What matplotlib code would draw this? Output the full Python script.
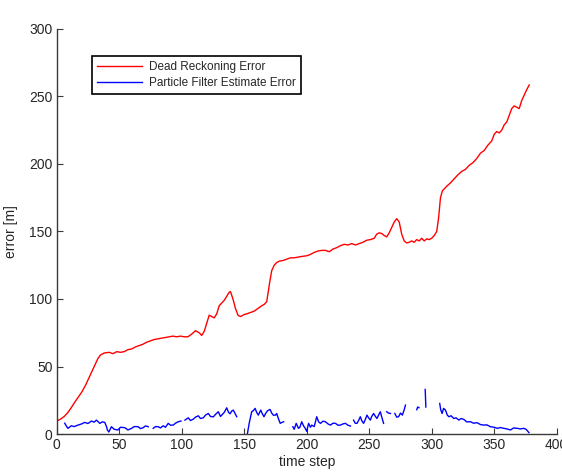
"""Erro de dead reckoning vs. erro do filtro de partículas ao longo do tempo."""

import matplotlib

matplotlib.use("Agg")
import matplotlib.pyplot as plt  # noqa: E402
import numpy as np  # noqa: E402

# Dead reckoning error
t_dr = [0, 3, 6, 9, 12, 14, 17, 20, 23, 25, 28, 31, 33, 35, 38, 42, 45, 48, 51, 54,
        57, 60, 63, 66, 69, 72, 75, 78, 81, 84, 87, 90, 93, 96, 99, 102, 105, 108, 111, 114,
        116, 118, 120, 122, 124, 126, 128, 130, 132, 134, 136, 138, 139, 141, 143, 145, 147,
        150, 152, 155, 158, 161, 164, 166, 168, 169, 170.5, 172, 174, 176, 178, 181, 184,
        187, 190, 193, 196, 200, 203, 206, 209, 212, 215, 218, 221, 224, 227, 230, 233, 236,
        239, 242, 245, 248, 251, 254, 256, 258, 260, 262, 264, 266, 268, 270, 272, 274, 276,
        278, 280, 282, 284, 286, 288, 290, 292, 294, 296, 298, 300, 302, 304, 305.5, 307,
        308.5, 310, 312, 315, 318, 321, 324, 327, 330, 333, 336, 339, 342, 345, 348, 350,
        352, 354, 356, 358, 360, 362, 364, 366, 368, 370, 372, 374, 376, 378]
e_dr = [9.5, 11, 13, 16, 20, 23, 27, 31, 36, 40, 46, 52, 56, 58.5, 60, 60.5, 59.5, 61, 60.5, 61,
        62.5, 63, 64.5, 65.5, 66.5, 68, 69, 70, 70.5, 71, 71.5, 72, 72.5, 72, 72.5, 72, 72, 74,
        76.5, 75, 73, 76, 82, 88, 87, 86, 89, 95, 97, 99, 102, 105, 105.5, 100, 93, 88, 87,
        88.5, 89, 90, 91, 93, 95, 96, 98, 104, 113, 121, 125, 127, 128, 128.5, 129.5,
        130.5, 130.5, 131, 131.5, 132, 133, 134.5, 135.5, 136, 136, 135, 137, 138, 139.5,
        140.5, 140, 141, 140, 141, 142, 143.5, 144, 145, 148, 149, 148.5, 147, 146, 149, 153,
        157, 159.5, 157, 148, 143, 141.5, 142, 143, 142, 144, 143, 145, 143, 144.5, 144, 145,
        147, 150, 160, 175, 180, 181.5, 183.5, 186, 189, 192, 194.5, 196, 199, 201, 204, 208,
        210, 214, 217, 222, 224, 223, 225, 229, 231, 236, 241, 243, 242, 241, 247, 251, 255,
        258.5]

# Particle filter estimate error (NaN = trecho sem estimativa)
nan = np.nan
t_pf = [6.4, 8, 9, 11.7, 14, 17, 20, 22.4, 25, 27.8, 30, 31.8, 34.5, 36.5, 38.5, 40, 40.5,
        41.7, 43.8, 46, 49, 51, 54.5, 57, 59.9, 62, 65.2, 67, 69.2, 71, 73.2, nan,
        77.2, 79, 81.2, 83, 85.2, 87, 89.2, 91, 93.2, 95, 97.2, 99.4, nan,
        102.6, 105.3, 107, 109.3, 111, 113.3, 115, 117.3, 119, 121.3, 123, 125.3, 127, 129.3,
        131, 132, 134, 136, 137.5, 138.7, 140, 141.3, 143, 144, nan,
        152.6, 154, 156, 157.5, 158.7, 160, 161.3, 163.2, 164.5, 165.8, 167, 168.6, 170.7,
        172, 173.4, 175, 176, 177.5, 178.8, 180, 181.5, nan,
        188.9, 190, 191.6, 193.4, 194.5, 196, 197.5, 198.8, 200, 201.5, 203, 204, 206, 208,
        209.5, 211, 213, 215, 217, 219, 221, 223, 225, 227, 229, 231, 233, 235, nan,
        237.5, 238.8, 240.2, 241.5, 242.9, 244, 245.5, 247, 248.2, 249.5, 250.9, 252, 253.5,
        255, 256.2, 257.5, 258.9, 260.2, 261.5, nan,
        264, 265.5, 267, nan,
        270.5, 272, 273.5, 275, 276.5, 278, 279, nan,
        288, 288.8, 289.8, nan,
        294.8, 295, 295.3, nan,
        306.4, 307.2, 308.3, 309.5, 311, 312.5, 313.7, 315.5, 317.7, 319.5, 321.7, 323.5,
        325.7, 328, 331, 333.5, 336.3, 339, 341.7, 344, 347, 350, 352.4, 355, 357.7, 360,
        363, 365.5, 368.4, 371, 373.7, 375.5, 377.8]
e_pf = [8, 5.5, 4.2, 6.1, 5.5, 6.6, 7.5, 8.6, 7.8, 9.6, 8.8, 10.3, 7.9, 9, 8.6, 5, 3,
        1.5, 5.4, 3.5, 3, 5, 4.7, 3, 4.2, 5.5, 5.4, 4, 4.7, 6, 5.4, nan,
        4.2, 5.5, 5.4, 4.5, 6.1, 5, 7.9, 6.5, 6.6, 8, 9.1, 9.6, nan,
        10.3, 12, 10, 11, 12.5, 13.5, 11.5, 12, 14, 15.2, 13, 12.7, 14.5, 16.5,
        13, 14, 16, 19.4, 16, 15, 17, 17.7, 14.5, 12.8, nan,
        0.5, 8, 16.5, 17.5, 19, 16, 14, 17.7, 15, 12.8, 15, 17.2, 18.2,
        15.5, 13.9, 14, 15.2, 11, 7.9, 8.5, 9.1, nan,
        5.4, 3.5, 7.9, 4.2, 5, 9.1, 6, 4.2, 2, 7.9, 5, 6.6, 5.5, 12.8,
        9, 7.9, 9.5, 9.1, 7.5, 6.6, 8, 7.9, 6.5, 6.6, 7.5, 7.9, 6.5, 5.9, nan,
        10.3, 8, 7.9, 10, 12.8, 10, 7.9, 11, 14, 12, 10.3, 13, 15.2,
        13, 11.5, 14, 16.5, 12, 7.9, nan,
        16.5, 15.5, 15.2, nan,
        15.2, 12.5, 12.8, 15.5, 14, 18, 21.4, nan,
        18, 20, 19.5, nan,
        33, 27, 20, nan,
        22.6, 18, 15.2, 19, 17.7, 14, 12.8, 13.5, 11.5, 12, 10.3, 11.5,
        10.8, 9, 9.1, 8, 8.4, 7, 6.6, 6.8, 5.4, 5, 4.2, 4.8, 4.2, 3.8,
        3, 4.5, 4.2, 3.8, 4.2, 3.5, 1]

x_ticks = [0, 50, 100, 150, 200, 250, 300, 350, 400]
y_ticks = [0, 50, 100, 150, 200, 250, 300]

plt.rcParams["font.family"] = ["Liberation Sans", "DejaVu Sans"]

fig = plt.figure(figsize=(5.62, 4.76), dpi=100)
ax = fig.add_axes([0.1009, 0.0882, 0.8897, 0.851])

ax.plot(t_dr, e_dr, color="red", lw=1.0, label="Dead Reckoning Error")
ax.plot(t_pf, e_pf, color="blue", lw=1.0, label="Particle Filter Estimate Error")

ax.set_xlim(0, 400)
ax.set_ylim(0, 300)
ax.set_xticks(x_ticks)
ax.set_yticks(y_ticks)

for side in ("top", "right"):
    ax.spines[side].set_visible(False)
for side in ("left", "bottom"):
    ax.spines[side].set_color("#3a3a3a")
    ax.spines[side].set_linewidth(1.0)

ax.tick_params(direction="in", length=4, width=0.8, colors="#3a3a3a",
               labelsize=10, labelcolor="#262626", pad=3)
ax.set_xlabel("time step", fontsize=10, color="#262626", labelpad=2)
ax.set_ylabel("error [m]", fontsize=10, color="#262626", labelpad=8)

leg = ax.legend(loc="upper left", bbox_to_anchor=(0.07, 0.934), borderaxespad=0,
                fontsize=8.5, handlelength=3.8, handletextpad=0.6,
                fancybox=False, framealpha=1, borderpad=0.45, labelspacing=0.35)
leg.get_frame().set_edgecolor("black")
leg.get_frame().set_linewidth(1.2)
for txt in leg.get_texts():
    txt.set_color("#262626")

fig.savefig("out.png", dpi=100)
plt.close(fig)
